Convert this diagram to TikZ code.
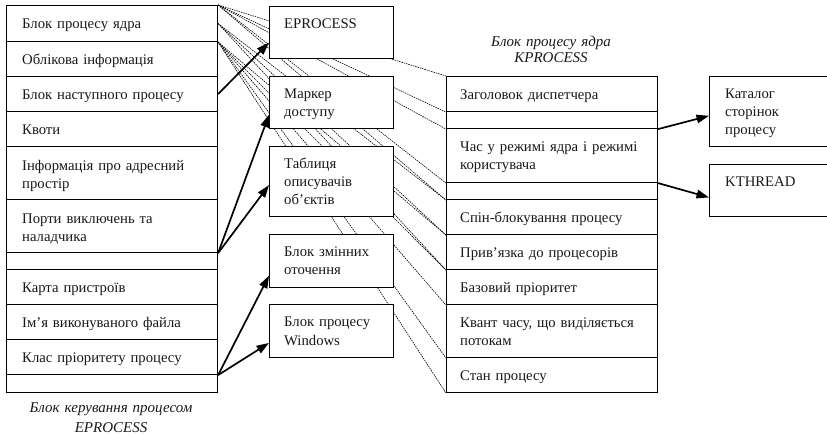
\documentclass[tikz,border=0pt]{standalone}
\usepackage{fontspec}
\setmainfont{Liberation Serif}
\usetikzlibrary{arrows.meta,calc,backgrounds}
\begin{document}
\begin{tikzpicture}[x=1pt,y=-1pt,
  cell/.style={draw, line width=1.1pt, fill=white, inner sep=0pt, anchor=north west},
  lcell/.style={cell, minimum width=211pt},
  mcell/.style={cell, minimum width=124pt},
  rcell/.style={cell, minimum width=211pt},
  fcell/.style={cell, minimum width=130pt},
  txt/.style={anchor=base west, inner sep=0pt, text width=200pt, align=left,
    font=\fontsize{14.7}{18}\selectfont, text=black!90},
  captext/.style={anchor=base, inner sep=0pt, text width=220pt, align=center,
    text=black!90},
  link/.style={line width=0.6pt, dash pattern=on 1.5pt off 0.9pt},
  ptr/.style={line width=1.7pt, -{Triangle[length=12.5pt,width=8.5pt]}}]
\path[use as bounding box, clip] (0,0) rectangle (827,435);

% EPROCESS fields
\node[lcell, minimum height=36pt] (l1)  at (6,5)   {};
\node[lcell, minimum height=35pt] (l2)  at (6,41)  {};
\node[lcell, minimum height=35pt] (l3)  at (6,76)  {};
\node[lcell, minimum height=35pt] (l4)  at (6,111) {};
\node[lcell, minimum height=53pt] (l5)  at (6,146) {};
\node[lcell, minimum height=53pt] (l6)  at (6,199) {};
\node[lcell, minimum height=17pt] (l7)  at (6,252) {};
\node[lcell, minimum height=35pt] (l8)  at (6,269) {};
\node[lcell, minimum height=35pt] (l9)  at (6,304) {};
\node[lcell, minimum height=35pt] (l10) at (6,339) {};
\node[lcell, minimum height=18pt] (l11) at (6,374) {};

\node[txt] (lt1)  at ($(l1.west)+(16,5)$)    {Блок процесу ядра};
\node[txt] (lt2)  at ($(l2.west)+(16,5)$)    {Облікова інформація};
\node[txt] (lt3)  at ($(l3.west)+(16,5)$)    {Блок наступного процесу};
\node[txt] (lt4)  at ($(l4.west)+(16,5)$)    {Квоти};
\node[txt] (lt5)  at ($(l5.west)+(16,-3)$)   {Інформація про адресний\\простір};
\node[txt] (lt6)  at ($(l6.west)+(16,-3)$)   {Порти виключень та\\наладчика};
\node[txt] (lt8)  at ($(l8.west)+(16,5)$)    {Карта пристроїв};
\node[txt] (lt9)  at ($(l9.west)+(16,5)$)    {Ім’я виконуваного файла};
\node[txt] (lt10) at ($(l10.west)+(16,5)$)   {Клас пріоритету процесу};

\node[captext, font=\itshape\fontsize{15}{20}\selectfont] (lcap) at (111,412)
  {Блок керування процесом\\EPROCESS};

% objects referenced from EPROCESS
\node[mcell, minimum height=52pt] (m1) at (269,6)   {};
\node[mcell, minimum height=52pt] (m2) at (269,76)  {};
\node[mcell, minimum height=70pt] (m3) at (269,146) {};
\node[mcell, minimum height=53pt] (m4) at (269,234) {};
\node[mcell, minimum height=53pt] (m5) at (269,304) {};

\node[txt] (mt1) at ($(m1.north west)+(15,23)$) {EPROCESS};
\node[txt] (mt2) at ($(m2.north west)+(15,23)$) {Маркер\\доступу};
\node[txt] (mt3) at ($(m3.north west)+(15,23)$) {Таблиця\\описувачів\\об’єктів};
\node[txt] (mt4) at ($(m4.north west)+(15,23)$) {Блок змінних\\оточення};
\node[txt] (mt5) at ($(m5.north west)+(15,23)$) {Блок процесу\\Windows};

% KPROCESS fields
\node[rcell, minimum height=35pt] (r1) at (446,76)  {};
\node[rcell, minimum height=17pt] (r2) at (446,111) {};
\node[rcell, minimum height=54pt] (r3) at (446,128) {};
\node[rcell, minimum height=17pt] (r4) at (446,182) {};
\node[rcell, minimum height=35pt] (r5) at (446,199) {};
\node[rcell, minimum height=35pt] (r6) at (446,234) {};
\node[rcell, minimum height=35pt] (r7) at (446,269) {};
\node[rcell, minimum height=53pt] (r8) at (446,304) {};
\node[rcell, minimum height=35pt] (r9) at (446,357) {};

\node[txt] (rt1) at ($(r1.west)+(14,5)$)    {Заголовок диспетчера};
\node[txt] (rt3) at ($(r3.west)+(14,-4)$)   {Час у режимі ядра і режимі\\користувача};
\node[txt] (rt5) at ($(r5.west)+(14,5)$)    {Спін-блокування процесу};
\node[txt] (rt6) at ($(r6.west)+(14,5)$)    {Прив’язка до процесорів};
\node[txt] (rt7) at ($(r7.west)+(14,5)$)    {Базовий пріоритет};
\node[txt] (rt8) at ($(r8.west)+(14,-3.5)$) {Квант часу, що виділяється\\потокам};
\node[txt] (rt9) at ($(r9.west)+(14,5)$)    {Стан процесу};

\node[captext, font=\itshape\fontsize{15}{16.5}\selectfont] (rcap) at (551,46.5)
  {Блок процесу ядра\\KPROCESS};

% objects referenced from KPROCESS
\node[fcell, minimum height=70pt] (f1) at (709,76)  {};
\node[fcell, minimum height=52pt] (f2) at (709,164) {};
\node[txt] (ft1) at ($(f1.north west)+(16,23)$) {Каталог\\сторінок\\процесу};
\node[txt] (ft2) at ($(f2.north west)+(16,23)$) {KTHREAD};

% the kernel process block row expanded into KPROCESS
\begin{scope}[on background layer]
  \foreach \t in {r1.north west, r1.south west, r2.south west, r3.south west, r4.south west}
    \draw[link] (l1.north east) -- (\t);
  \foreach \t in {r4.south west, r5.south west, r6.south west}
    \draw[link] (l1.east) -- (\t);
  \foreach \t in {r5.south west, r6.south west, r7.south west, r8.south west, r9.south west}
    \draw[link] (l1.south east) -- (\t);
\end{scope}

% pointers
\draw[ptr] (l3.east) -- ($(m1.north west)!0.69!(m1.south west)$);
\draw[ptr] (l6.south east) -- ($(m2.north west)!0.73!(m2.south west)$);
\draw[ptr] (l6.south east) -- ($(m3.north west)!0.55!(m3.south west)$);
\draw[ptr] (l10.south east) -- ($(m4.north west)!0.77!(m4.south west)$);
\draw[ptr] (l10.south east) -- ($(m5.north west)!0.72!(m5.south west)$);
\draw[ptr] (r2.south east) -- ($(f1.north west)!0.56!(f1.south west)$);
\draw[ptr] (r3.south east) -- ($(f2.north west)!0.63!(f2.south west)$);
\end{tikzpicture}
\end{document}
